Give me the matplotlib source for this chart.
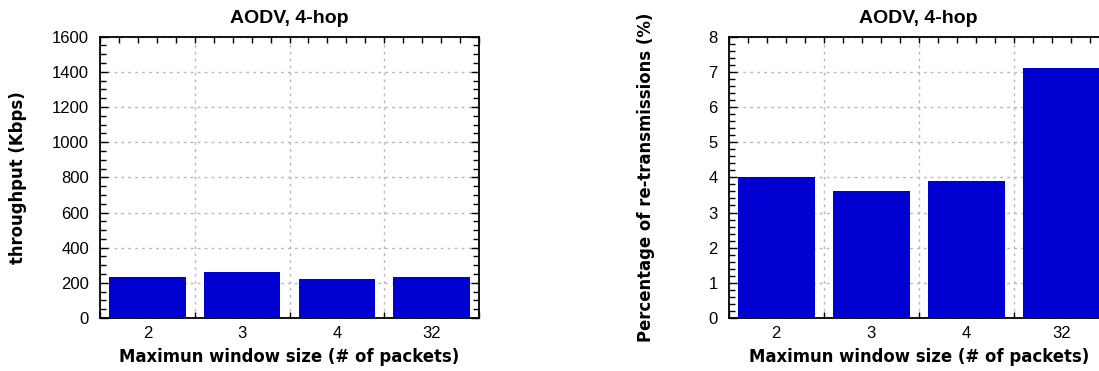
import numpy as np
import matplotlib
matplotlib.use("Agg")
import matplotlib.pyplot as plt
from matplotlib.ticker import MultipleLocator

window_sizes = ["2", "3", "4", "32"]
throughput_kbps = [231, 260, 220, 231]
retransmission_pct = [4.0, 3.6, 3.9, 7.1]

title = "AODV, 4-hop"
xlabel = "Maximun window size (# of packets)"
ylabel_left = "throughput (Kbps)"
ylabel_right = "Percentage of re-transmissions (%)"

BAR_COLOR = "#0000d0"
TICK_FONT = "Liberation Sans"
LABEL_FONT = "DejaVu Sans"

W, H = 1099, 371
fig = plt.figure(figsize=(W / 100, H / 100), dpi=100)
fig.patch.set_facecolor("white")


def style_axes(ax, values, ymax, ymajor, yminor, ylabel, ylabel_pad):
    x = np.arange(len(window_sizes))
    ax.bar(x, values, width=0.81, color=BAR_COLOR, zorder=3)
    ax.set_xlim(-0.5, len(window_sizes) - 0.5)
    ax.set_ylim(0, ymax)

    # category labels at bar centres, no tick marks there
    ax.set_xticks(x)
    ax.set_xticklabels(window_sizes)
    ax.tick_params(axis="x", which="major", length=0, pad=6)
    ax.set_xticks(np.arange(-0.5, len(window_sizes) - 0.5 + 1e-9, 0.2), minor=True)

    ax.yaxis.set_major_locator(MultipleLocator(ymajor))
    ax.yaxis.set_minor_locator(MultipleLocator(yminor))
    ax.tick_params(axis="y", which="major", direction="in", length=6, width=1,
                   left=True, right=True, pad=8)
    ax.tick_params(which="minor", direction="in", length=4, width=1,
                   top=True, bottom=True, left=True, right=True)
    ax.tick_params(axis="both", labelsize=12, colors="black")
    for lab in ax.get_xticklabels() + ax.get_yticklabels():
        lab.set_fontfamily(TICK_FONT)

    # dotted grid: horizontal at major y ticks, vertical between categories
    ax.yaxis.grid(True, linestyle=(0, (2, 3)), color="#b8b8b8", linewidth=1, zorder=0)
    for b in x[:-1] + 0.5:
        ax.axvline(b, linestyle=(0, (2, 3)), color="#b8b8b8", linewidth=1, zorder=0)

    for sp in ax.spines.values():
        sp.set_linewidth(1.3)
        sp.set_color("black")

    ax.set_title(title, fontsize=14, fontweight="bold", family=TICK_FONT, pad=10)
    ax.set_xlabel(xlabel, fontsize=11.9, fontweight="bold", family=LABEL_FONT, labelpad=5)
    ax.set_ylabel(ylabel, fontsize=11.9, fontweight="bold", family=LABEL_FONT,
                  labelpad=ylabel_pad)


ax1 = fig.add_axes([100 / W, (H - 318) / H, 379 / W, 281.3 / H])
style_axes(ax1, throughput_kbps, 1600, 200, 50, ylabel_left, 18)

ax2 = fig.add_axes([728.7 / W, (H - 318) / H, 380 / W, 281.3 / H])
style_axes(ax2, retransmission_pct, 8, 1, 0.2, ylabel_right, 38)

fig.savefig("out.png", dpi=100, facecolor="white")
